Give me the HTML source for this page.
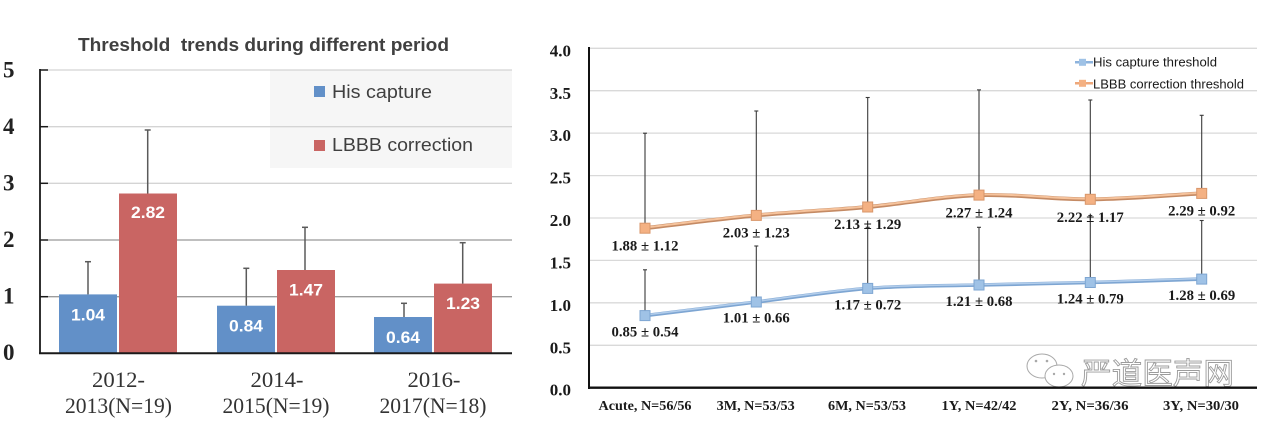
<!DOCTYPE html>
<html>
<head>
<meta charset="utf-8">
<style>
  html,body{margin:0;padding:0;background:#fff;}
  svg{display:block;}
</style>
</head>
<body>
<svg width="1280" height="429" viewBox="0 0 1280 429" xmlns="http://www.w3.org/2000/svg">
  <rect x="0" y="0" width="1280" height="429" fill="#fff"/>

  <!-- ================= LEFT CHART ================= -->
  <text x="78" y="51" xml:space="preserve" font-family="Liberation Sans, sans-serif" font-weight="bold" font-size="18" fill="#404040" textLength="371" lengthAdjust="spacingAndGlyphs">Threshold  trends during different period</text>

  <!-- legend bg -->
  <rect x="270" y="70" width="242" height="98" fill="#f6f6f6"/>

  <!-- gridlines -->
  <g stroke="#d4d4d4" stroke-width="1.3">
    <line x1="48" y1="70" x2="512" y2="70"/>
    <line x1="48" y1="126.7" x2="512" y2="126.7"/>
    <line x1="48" y1="183.3" x2="512" y2="183.3"/>
    <line x1="48" y1="240" x2="512" y2="240"/>
    <line x1="48" y1="296.7" x2="512" y2="296.7"/>
  </g>
  <g stroke="#8a8a8a" stroke-width="1">
    <line x1="48" y1="240" x2="512" y2="240"/>
    <line x1="48" y1="296.7" x2="512" y2="296.7"/>
  </g>

  <!-- bars -->
  <g>
    <rect x="59" y="294.4" width="58" height="58.9" fill="#6290c8"/>
    <rect x="119" y="193.5" width="58" height="159.8" fill="#c96563"/>
    <rect x="217" y="305.7" width="58" height="47.6" fill="#6290c8"/>
    <rect x="277" y="270" width="58" height="83.3" fill="#c96563"/>
    <rect x="374" y="317" width="58" height="36.3" fill="#6290c8"/>
    <rect x="434" y="283.6" width="58" height="69.7" fill="#c96563"/>
  </g>

  <!-- error bars -->
  <g stroke="#5a5a5a" stroke-width="1.5" fill="none">
    <line x1="88" y1="294.4" x2="88" y2="261.7"/><line x1="85" y1="261.7" x2="91" y2="261.7"/>
    <line x1="147.7" y1="193.5" x2="147.7" y2="130"/><line x1="144.7" y1="130" x2="150.7" y2="130"/>
    <line x1="246.3" y1="305.7" x2="246.3" y2="268.3"/><line x1="243.3" y1="268.3" x2="249.3" y2="268.3"/>
    <line x1="305" y1="270" x2="305" y2="227.3"/><line x1="302" y1="227.3" x2="308" y2="227.3"/>
    <line x1="404" y1="317" x2="404" y2="303.3"/><line x1="401" y1="303.3" x2="407" y2="303.3"/>
    <line x1="462.7" y1="283.6" x2="462.7" y2="242.7"/><line x1="459.7" y1="242.7" x2="465.7" y2="242.7"/>
  </g>

  <!-- bar labels -->
  <g font-family="Liberation Sans, sans-serif" font-weight="bold" font-size="17" fill="#fff" text-anchor="middle">
    <text x="88" y="320.5" textLength="34" lengthAdjust="spacingAndGlyphs">1.04</text>
    <text x="148" y="218" textLength="34" lengthAdjust="spacingAndGlyphs">2.82</text>
    <text x="246" y="331.5" textLength="34" lengthAdjust="spacingAndGlyphs">0.84</text>
    <text x="306" y="295.5" textLength="34" lengthAdjust="spacingAndGlyphs">1.47</text>
    <text x="403" y="343" textLength="34" lengthAdjust="spacingAndGlyphs">0.64</text>
    <text x="463" y="309" textLength="34" lengthAdjust="spacingAndGlyphs">1.23</text>
  </g>

  <!-- axes -->
  <line x1="40" y1="69" x2="40" y2="354" stroke="#1a1a1a" stroke-width="1.8"/>
  <line x1="39" y1="353.3" x2="512" y2="353.3" stroke="#1a1a1a" stroke-width="2"/>
  <g stroke="#1a1a1a" stroke-width="1.5">
    <line x1="40" y1="70" x2="48" y2="70"/>
    <line x1="40" y1="126.7" x2="48" y2="126.7"/>
    <line x1="40" y1="183.3" x2="48" y2="183.3"/>
    <line x1="40" y1="240" x2="48" y2="240"/>
    <line x1="40" y1="296.7" x2="48" y2="296.7"/>
  </g>

  <!-- y labels -->
  <g font-family="Liberation Serif, serif" font-weight="bold" font-size="23" fill="#222">
    <text x="3" y="77.5">5</text>
    <text x="3" y="134">4</text>
    <text x="3" y="190.5">3</text>
    <text x="3" y="247">2</text>
    <text x="3" y="303.5">1</text>
    <text x="3" y="360">0</text>
  </g>

  <!-- x labels -->
  <g font-family="Liberation Serif, serif" font-size="22" fill="#333" text-anchor="middle">
    <text x="118.5" y="387" textLength="53" lengthAdjust="spacingAndGlyphs">2012-</text>
    <text x="118.5" y="413" textLength="107" lengthAdjust="spacingAndGlyphs">2013(N=19)</text>
    <text x="277" y="387" textLength="53" lengthAdjust="spacingAndGlyphs">2014-</text>
    <text x="276" y="413" textLength="107" lengthAdjust="spacingAndGlyphs">2015(N=19)</text>
    <text x="434" y="387" textLength="53" lengthAdjust="spacingAndGlyphs">2016-</text>
    <text x="433" y="413" textLength="107" lengthAdjust="spacingAndGlyphs">2017(N=18)</text>
  </g>

  <!-- legend -->
  <rect x="314" y="86" width="11" height="11" fill="#6290c8"/>
  <rect x="314" y="140" width="11" height="11" fill="#c96563"/>
  <g font-family="Liberation Sans, sans-serif" font-size="18" fill="#404040">
    <text x="332" y="98" textLength="100" lengthAdjust="spacingAndGlyphs">His capture</text>
    <text x="332" y="151" textLength="141" lengthAdjust="spacingAndGlyphs">LBBB correction</text>
  </g>

  <!-- ================= RIGHT CHART ================= -->
  <g stroke="#d9d9d9" stroke-width="1.3">
    <line x1="589" y1="48.3" x2="1257" y2="48.3"/>
    <line x1="589" y1="90.7" x2="1257" y2="90.7"/>
    <line x1="589" y1="133.1" x2="1257" y2="133.1"/>
    <line x1="589" y1="175.6" x2="1257" y2="175.6"/>
    <line x1="589" y1="218" x2="1257" y2="218"/>
    <line x1="589" y1="260.4" x2="1257" y2="260.4"/>
    <line x1="589" y1="302.8" x2="1257" y2="302.8"/>
    <line x1="589" y1="345.3" x2="1257" y2="345.3"/>
  </g>

  <!-- watermark -->
  <g fill="#fff" stroke="#a8a8a8" stroke-width="1">
    <ellipse cx="1042" cy="366" rx="15" ry="12"/>
    <ellipse cx="1059" cy="376" rx="14" ry="11"/>
  </g>
  <g fill="#a8a8a8">
    <circle cx="1036" cy="361" r="1.3"/><circle cx="1047" cy="361" r="1.3"/>
    <circle cx="1054" cy="374" r="1.2"/><circle cx="1064" cy="374" r="1.2"/>
  </g>
  <text x="1081" y="384" font-family="Liberation Sans, Noto Sans CJK SC, sans-serif" font-size="30" fill="#fff" stroke="#9c9c9c" stroke-width="0.9" textLength="153" lengthAdjust="spacingAndGlyphs">严道医声网</text>

  <!-- axes -->
  <line x1="589" y1="47" x2="589" y2="389" stroke="#111" stroke-width="2"/>
  <line x1="588" y1="387.7" x2="1257" y2="387.7" stroke="#111" stroke-width="2.4"/>

  <!-- error bars -->
  <g stroke="#3a3a3a" stroke-width="1.1" fill="none">
    <line x1="645" y1="228.2" x2="645" y2="133.2"/><line x1="643" y1="133.2" x2="647" y2="133.2"/>
    <line x1="756.3" y1="215.4" x2="756.3" y2="111"/><line x1="754.3" y1="111" x2="758.3" y2="111"/>
    <line x1="867.7" y1="207" x2="867.7" y2="97.5"/><line x1="865.7" y1="97.5" x2="869.7" y2="97.5"/>
    <line x1="979" y1="195.1" x2="979" y2="89.9"/><line x1="977" y1="89.9" x2="981" y2="89.9"/>
    <line x1="1090.3" y1="199.3" x2="1090.3" y2="100"/><line x1="1088.3" y1="100" x2="1092.3" y2="100"/>
    <line x1="1201.7" y1="193.4" x2="1201.7" y2="115.3"/><line x1="1199.7" y1="115.3" x2="1203.7" y2="115.3"/>

    <line x1="645" y1="315.6" x2="645" y2="269.8"/><line x1="643" y1="269.8" x2="647" y2="269.8"/>
    <line x1="756.3" y1="302" x2="756.3" y2="246"/><line x1="754.3" y1="246" x2="758.3" y2="246"/>
    <line x1="867.7" y1="288.4" x2="867.7" y2="227.3"/><line x1="865.7" y1="227.3" x2="869.7" y2="227.3"/>
    <line x1="979" y1="285" x2="979" y2="227.3"/><line x1="977" y1="227.3" x2="981" y2="227.3"/>
    <line x1="1090.3" y1="282.5" x2="1090.3" y2="215.5"/><line x1="1088.3" y1="215.5" x2="1092.3" y2="215.5"/>
    <line x1="1201.7" y1="279.1" x2="1201.7" y2="220.5"/><line x1="1199.7" y1="220.5" x2="1203.7" y2="220.5"/>
  </g>

  <!-- orange line -->
  <path d="M645,228.2 C663.6,226.07 719.2,218.93 756.3,215.4 C793.4,211.87 830.6,210.38 867.7,207 C904.8,203.62 941.9,196.38 979,195.1 C1016.1,193.82 1053.2,199.58 1090.3,199.3 C1127.4,199.02 1183.1,194.38 1201.7,193.4" fill="none" stroke="#c48a64" stroke-width="4"/>
  <path d="M645,227.6 C663.6,225.47 719.2,218.33 756.3,214.8 C793.4,211.27 830.6,209.78 867.7,206.4 C904.8,203.02 941.9,195.78 979,194.5 C1016.1,193.22 1053.2,198.98 1090.3,198.7 C1127.4,198.42 1183.1,193.78 1201.7,192.8" fill="none" stroke="#f6c39c" stroke-width="2"/>

  <!-- blue line -->
  <path d="M645,315.6 C663.6,313.33 719.2,306.53 756.3,302 C793.4,297.47 830.6,291.23 867.7,288.4 C904.8,285.57 941.9,285.98 979,285 C1016.1,284.02 1053.2,283.48 1090.3,282.5 C1127.4,281.52 1183.1,279.67 1201.7,279.1" fill="none" stroke="#7da5d2" stroke-width="3.6"/>
  <path d="M645,315 C663.6,312.73 719.2,305.93 756.3,301.4 C793.4,296.87 830.6,290.63 867.7,287.8 C904.8,284.97 941.9,285.38 979,284.4 C1016.1,283.42 1053.2,282.88 1090.3,281.9 C1127.4,280.92 1183.1,279.07 1201.7,278.5" fill="none" stroke="#b2cdeb" stroke-width="1.6"/>

  <!-- markers -->
  <g fill="#f4b183" stroke="#d9966a" stroke-width="1">
    <rect x="640" y="223.2" width="10" height="10"/>
    <rect x="751.3" y="210.4" width="10" height="10"/>
    <rect x="862.7" y="202" width="10" height="10"/>
    <rect x="974" y="190.1" width="10" height="10"/>
    <rect x="1085.3" y="194.3" width="10" height="10"/>
    <rect x="1196.7" y="188.4" width="10" height="10"/>
  </g>
  <g fill="#9fc2e6" stroke="#7ea6d2" stroke-width="1">
    <rect x="640" y="310.6" width="10" height="10"/>
    <rect x="751.3" y="297" width="10" height="10"/>
    <rect x="862.7" y="283.4" width="10" height="10"/>
    <rect x="974" y="280" width="10" height="10"/>
    <rect x="1085.3" y="277.5" width="10" height="10"/>
    <rect x="1196.7" y="274.1" width="10" height="10"/>
  </g>

  <!-- data labels -->
  <g font-family="Liberation Serif, serif" font-weight="bold" font-size="14.5" fill="#1a1a1a" text-anchor="middle">
    <text x="645" y="250.7" textLength="67" lengthAdjust="spacingAndGlyphs">1.88 ± 1.12</text>
    <text x="756.3" y="237.7" textLength="67" lengthAdjust="spacingAndGlyphs">2.03 ± 1.23</text>
    <text x="867.7" y="229.2" textLength="67" lengthAdjust="spacingAndGlyphs">2.13 ± 1.29</text>
    <text x="979" y="217.3" textLength="67" lengthAdjust="spacingAndGlyphs">2.27 ± 1.24</text>
    <text x="1090.3" y="222" textLength="67" lengthAdjust="spacingAndGlyphs">2.22 ± 1.17</text>
    <text x="1201.7" y="215.7" textLength="67" lengthAdjust="spacingAndGlyphs">2.29 ± 0.92</text>

    <text x="645" y="336.7" textLength="67" lengthAdjust="spacingAndGlyphs">0.85 ± 0.54</text>
    <text x="756.3" y="322.7" textLength="67" lengthAdjust="spacingAndGlyphs">1.01 ± 0.66</text>
    <text x="867.7" y="309.3" textLength="67" lengthAdjust="spacingAndGlyphs">1.17 ± 0.72</text>
    <text x="979" y="306" textLength="67" lengthAdjust="spacingAndGlyphs">1.21 ± 0.68</text>
    <text x="1090.3" y="303.3" textLength="67" lengthAdjust="spacingAndGlyphs">1.24 ± 0.79</text>
    <text x="1201.7" y="300" textLength="67" lengthAdjust="spacingAndGlyphs">1.28 ± 0.69</text>
  </g>

  <!-- y labels -->
  <g font-family="Liberation Serif, serif" font-weight="bold" font-size="17" fill="#1a1a1a" text-anchor="end">
    <text x="571" y="56.5">4.0</text>
    <text x="571" y="98.8">3.5</text>
    <text x="571" y="141.2">3.0</text>
    <text x="571" y="183.7">2.5</text>
    <text x="571" y="226">2.0</text>
    <text x="571" y="268.5">1.5</text>
    <text x="571" y="310.8">1.0</text>
    <text x="571" y="353.3">0.5</text>
    <text x="571" y="395.7">0.0</text>
  </g>

  <!-- x labels -->
  <g font-family="Liberation Serif, serif" font-weight="bold" font-size="14" fill="#1a1a1a" text-anchor="middle">
    <text x="645" y="410" textLength="93" lengthAdjust="spacingAndGlyphs">Acute, N=56/56</text>
    <text x="755.7" y="410" textLength="78" lengthAdjust="spacingAndGlyphs">3M, N=53/53</text>
    <text x="867" y="410" textLength="78" lengthAdjust="spacingAndGlyphs">6M, N=53/53</text>
    <text x="979" y="410" textLength="75" lengthAdjust="spacingAndGlyphs">1Y, N=42/42</text>
    <text x="1090" y="410" textLength="77" lengthAdjust="spacingAndGlyphs">2Y, N=36/36</text>
    <text x="1201" y="410" textLength="76" lengthAdjust="spacingAndGlyphs">3Y, N=30/30</text>
  </g>

  <!-- legend -->
  <line x1="1075" y1="62.3" x2="1093" y2="62.3" stroke="#8db3dd" stroke-width="2.5"/>
  <rect x="1079" y="58.8" width="7" height="7" fill="#9fc2e6"/>
  <line x1="1075" y1="83.3" x2="1093" y2="83.3" stroke="#eea77a" stroke-width="2.5"/>
  <rect x="1079" y="79.8" width="7" height="7" fill="#f4b183"/>
  <g font-family="Liberation Sans, sans-serif" font-size="13" fill="#1a1a1a">
    <text x="1093" y="66.7" textLength="124" lengthAdjust="spacingAndGlyphs">His capture threshold</text>
    <text x="1093" y="88.3" textLength="151" lengthAdjust="spacingAndGlyphs">LBBB correction threshold</text>
  </g>
</svg>
</body>
</html>
